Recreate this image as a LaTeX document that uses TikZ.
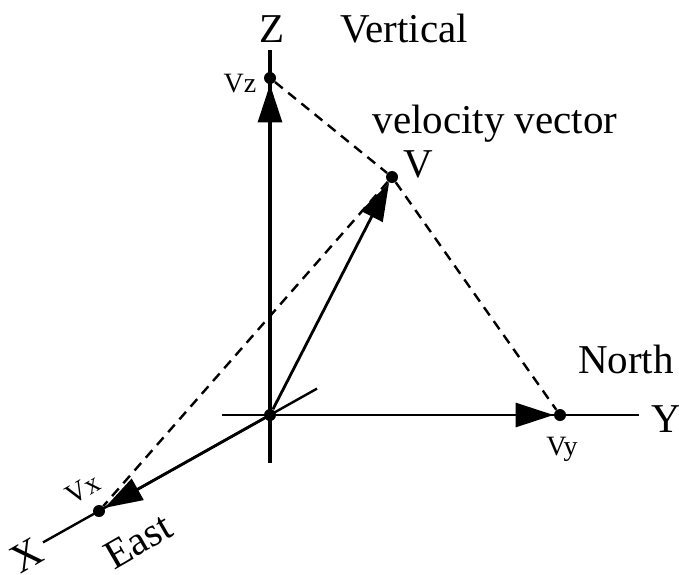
\documentclass[tikz,border=0pt]{standalone}
\usepackage{fontspec}
\setmainfont{Liberation Serif}
\usetikzlibrary{arrows.meta}

\begin{document}
\begin{tikzpicture}[x=0.5pt, y=0.5pt,
  dot/.style={circle, fill=black, inner sep=0pt, minimum size=6pt},
  axis/.style={line width=1.3pt},
  vec/.style={-{Triangle[length=19pt, width=12pt]}, line width=1.4pt},
  proj/.style={dash pattern=on 5pt off 3.5pt, line width=1.2pt},
  big/.style={font=\fontsize{20.5}{24}\selectfont},
  small/.style={font=\fontsize{14}{17}\selectfont}
]
  \useasboundingbox (0,0) rectangle (679,-574);

  % axes
  \coordinate (zt) at (270,-50);
  \coordinate (zb) at (270,-463);
  \coordinate (yl) at (222,-415);
  \coordinate (yr) at (639,-415);
  \coordinate (xr) at (317,-388.6);
  \coordinate (xl) at (43,-542.4);

  \node[dot] (o)  at (270,-415) {};
  \node[dot] (vz) at (270,-78)  {};
  \node[dot] (v)  at (392,-177) {};
  \node[dot] (vy) at (560,-415) {};
  \node[dot] (vx) at (99,-511)  {};

  \draw[axis, line width=2pt] (zt) -- (zb);
  \draw[axis] (yl) -- (yr);
  \draw[axis, line width=1.2pt] (xr) -- (xl);

  \draw[proj] (vz) -- (v) -- (vy);
  \draw[proj] (v) -- (vx);
  \foreach \t in {vz,v,vy,vx}{
    \draw[vec] (o) -- (\t);
  }

  % labels
  \node[big, anchor=base] (zlab) at (272,-42) {Z};
  \node[big, anchor=base] (vert) at (404,-42) {Vertical};
  \node[small, anchor=base] (vzlab) at (240,-92) {Vz};
  \node[big, anchor=base] (vel) at (495,-133) {velocity vector};
  \node[big, anchor=base] (vlab) at (418,-177) {V};
  \node[big, anchor=base] (north) at (626,-373) {North};
  \node[big, anchor=base] (ylab) at (666,-432) {Y};
  \node[small, anchor=base] (vylab) at (562,-455) {Vy};
  \node[small, rotate=30] (vxlab) at (83,-489) {Vx};
  \node[big, rotate=30] (east) at (138,-541) {East};
  \node[big, rotate=30] (xlab) at (27,-555) {X};
\end{tikzpicture}
\end{document}
